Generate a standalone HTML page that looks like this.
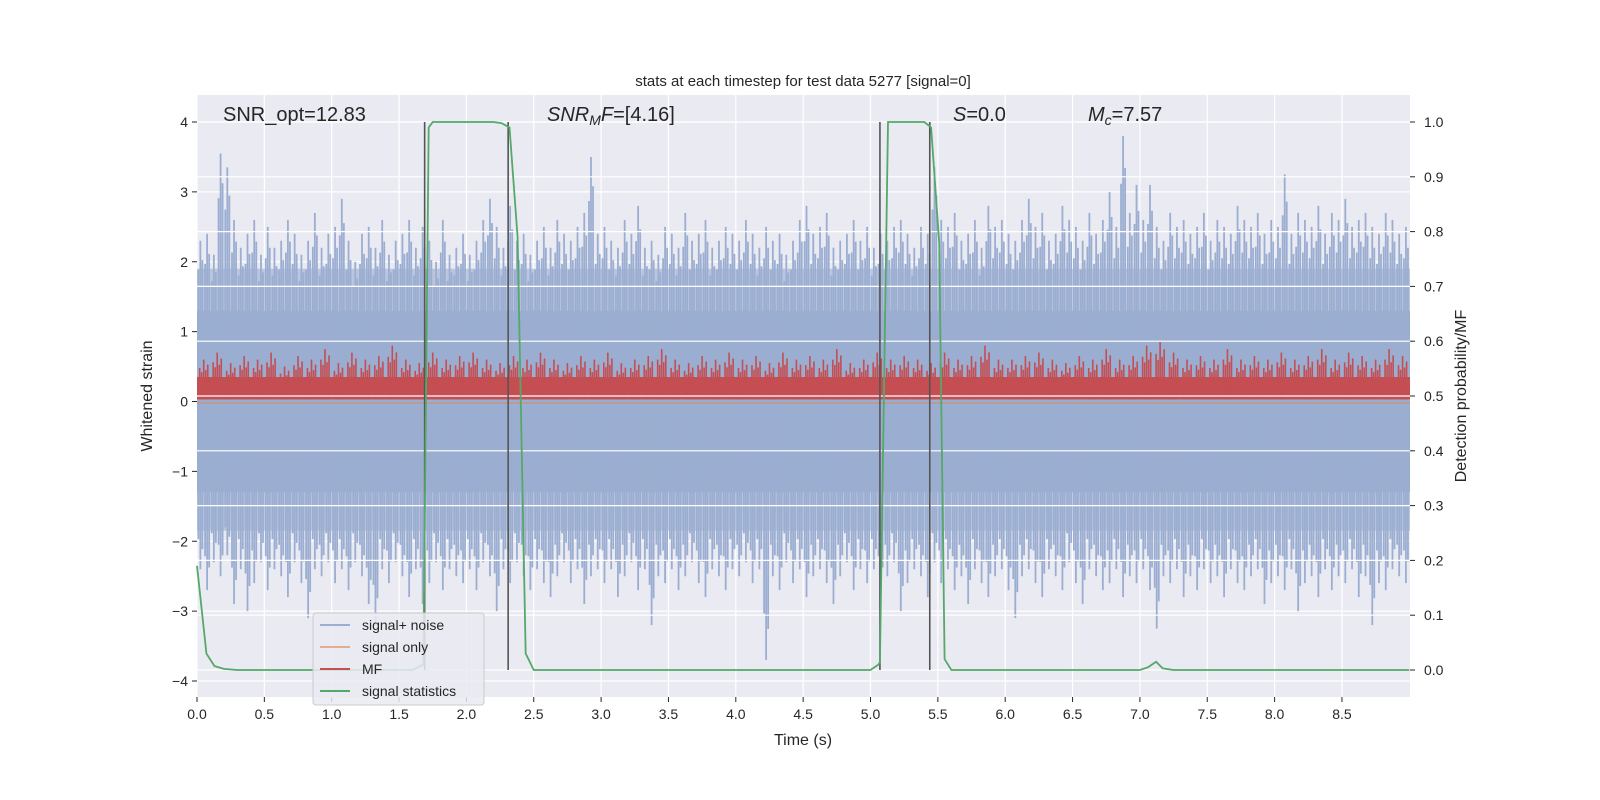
<!DOCTYPE html>
<html><head><meta charset="utf-8"><style>html,body{margin:0;padding:0;width:1600px;height:800px;overflow:hidden;background:#fff}svg{display:block;font-family:"Liberation Sans","DejaVu Sans",sans-serif}</style></head>
<body>
<svg id="c" width="1600" height="800" viewBox="0 0 1600 800">
<rect x="197" y="95" width="1213" height="602" fill="#eaeaf2"/>
<g id="gridL"></g><g id="noise"></g><g id="mf"></g><g id="gridR"></g><g id="stat"></g><g id="axes"></g>
<text x="803" y="86" text-anchor="middle" font-size="15" fill="#262626">stats at each timestep for test data 5277 [signal=0]</text>
<text x="223" y="121" font-size="20" fill="#262626">SNR_opt=12.83</text>
<text x="547" y="121" font-size="20" fill="#262626"><tspan font-style="italic">SNR</tspan><tspan font-style="italic" font-size="14" dy="4">M</tspan><tspan font-style="italic" dy="-4">F</tspan>=[4.16]</text>
<text x="953" y="121" font-size="20" fill="#262626"><tspan font-style="italic">S</tspan>=0.0</text>
<text x="1088" y="121" font-size="20" fill="#262626"><tspan font-style="italic">M</tspan><tspan font-style="italic" font-size="14" dy="4">c</tspan><tspan dy="-4">=7.57</tspan></text>
<text x="803" y="745" text-anchor="middle" font-size="16" fill="#262626">Time (s)</text>
<text transform="translate(152,396) rotate(-90)" text-anchor="middle" font-size="16" fill="#262626">Whitened strain</text>
<text transform="translate(1466,396) rotate(-90)" text-anchor="middle" font-size="16" fill="#262626">Detection probability/MF</text>
<g>
<rect x="313" y="613" width="171" height="92" rx="3" fill="#eaeaf2" fill-opacity="0.85" stroke="#cccccc"/>
<line x1="320" y1="625" x2="350" y2="625" stroke="#4c72b0" stroke-opacity="0.5" stroke-width="2"/>
<text x="362" y="630" font-size="14" fill="#262626">signal+ noise</text>
<line x1="320" y1="647" x2="350" y2="647" stroke="#dd8452" stroke-opacity="0.6" stroke-width="2"/>
<text x="362" y="652" font-size="14" fill="#262626">signal only</text>
<line x1="320" y1="669" x2="350" y2="669" stroke="#c44e52" stroke-width="2"/>
<text x="362" y="674" font-size="14" fill="#262626">MF</text>
<line x1="320" y1="691" x2="350" y2="691" stroke="#55a868" stroke-width="2"/>
<text x="362" y="696" font-size="14" fill="#262626">signal statistics</text>
</g>
</svg>
<script>
const noiseUp=[2.3,2.4,2.1,3.55,3.35,2.6,2.2,2.4,2.6,2.1,2.5,2.2,2.3,2.6,2.4,2.1,2.3,2.7,2.2,2.4,
2.5,2.9,2.3,2.0,2.4,2.5,2.2,2.6,2.1,2.3,2.4,2.6,2.2,2.5,2.3,2.0,2.6,2.1,2.2,2.4,
2.1,2.3,2.6,2.9,2.5,2.2,2.8,2.3,2.4,2.1,2.3,2.5,2.2,2.6,2.4,2.3,2.5,2.7,3.5,2.4,
2.5,2.3,2.2,2.6,2.4,2.8,2.2,2.3,2.1,2.5,2.4,2.2,2.7,2.3,2.4,2.6,2.2,2.3,2.5,2.4,
2.3,2.6,2.4,2.2,2.5,2.3,2.4,2.1,2.3,2.6,2.8,2.4,2.5,2.7,2.2,2.3,2.4,2.6,2.3,2.5,
2.2,2.4,2.3,2.5,2.6,2.4,2.2,2.5,2.4,3.35,2.6,2.5,2.7,2.3,2.4,2.6,2.2,2.8,2.5,2.6,
2.4,2.3,2.6,2.9,2.5,2.7,2.3,2.4,2.8,2.6,2.5,2.3,2.7,2.4,2.6,3.0,2.5,3.8,2.7,3.1,
2.6,3.1,2.5,2.3,2.7,2.5,2.6,2.4,2.5,2.7,2.3,2.6,2.5,2.4,2.8,2.6,2.5,2.7,2.4,2.6,
2.5,3.25,2.4,2.7,2.6,2.5,2.8,2.4,2.7,2.6,2.9,2.5,2.6,2.7,2.5,2.4,2.7,2.6,2.4,2.5];
const noiseDown=[-2.4,-2.7,-2.3,-2.5,-2.2,-2.9,-2.4,-3.0,-2.6,-2.3,-2.7,-2.4,-2.5,-2.8,-2.3,-2.6,-3.1,-2.4,-2.5,-2.3,
-2.6,-2.4,-2.7,-2.3,-2.5,-2.9,-3.2,-2.4,-2.6,-2.3,-2.5,-2.8,-2.4,-2.9,-2.6,-2.3,-2.7,-2.4,-2.5,-2.6,
-2.4,-2.7,-2.3,-2.5,-3.0,-2.4,-2.6,-2.3,-2.5,-2.7,-2.4,-2.6,-2.8,-2.5,-2.3,-2.6,-2.4,-2.9,-2.5,-2.4,
-2.6,-2.4,-2.8,-2.5,-2.3,-2.7,-2.4,-3.2,-2.5,-2.6,-2.4,-2.7,-2.5,-2.3,-2.6,-2.8,-2.4,-2.5,-2.7,-2.4,
-2.5,-2.3,-2.6,-2.4,-3.7,-2.5,-2.7,-2.3,-2.6,-2.4,-2.8,-2.5,-2.4,-2.6,-2.9,-2.5,-2.3,-2.7,-2.4,-2.6,
-2.4,-2.7,-2.5,-2.3,-3.0,-2.6,-2.4,-2.5,-2.8,-2.3,-2.6,-2.4,-2.7,-2.5,-2.9,-2.4,-2.6,-2.8,-2.5,-2.4,
-2.7,-3.1,-2.5,-2.4,-2.6,-2.8,-2.4,-2.5,-2.7,-2.3,-2.6,-2.9,-2.4,-2.5,-2.7,-2.6,-2.4,-2.8,-2.5,-2.6,
-2.4,-2.7,-3.25,-2.5,-2.6,-2.4,-2.8,-2.5,-2.7,-2.4,-2.6,-2.5,-2.8,-2.4,-2.6,-2.7,-2.5,-2.4,-2.9,-2.6,
-2.5,-2.7,-2.4,-3.0,-2.6,-2.5,-2.8,-2.4,-2.7,-2.5,-2.6,-2.4,-2.8,-2.5,-3.2,-2.6,-2.7,-2.4,-2.5,-2.6];
const mfTop=[0.6,0.7,0.55,0.65,0.6,0.7,0.5,0.65,0.6,0.75,0.55,0.7,0.6,0.65,0.8,0.6,0.55,0.7,0.6,0.65,
0.7,0.6,0.55,0.65,0.6,0.7,0.6,0.55,0.65,0.6,0.7,0.55,0.6,0.65,0.75,0.6,0.55,0.65,0.6,0.7,
0.6,0.65,0.55,0.7,0.6,0.65,0.6,0.75,0.55,0.6,0.7,0.6,0.65,0.6,0.55,0.7,0.6,0.65,0.8,0.6,
0.6,0.65,0.7,0.6,0.55,0.65,0.6,0.75,0.6,0.65,0.8,0.85,0.7,0.6,0.65,0.6,0.75,0.6,0.65,0.6,
0.7,0.6,0.65,0.75,0.6,0.7,0.65,0.6,0.75,0.65];
const statT=[0,0.07,0.13,0.2,0.3,1.6,1.68,1.72,1.75,1.8,2.2,2.26,2.32,2.38,2.44,2.5,5.0,5.06,5.07,5.13,5.2,5.4,5.45,5.51,5.55,5.6,7.0,7.06,7.12,7.17,7.25,9.0];
const statP=[0.19,0.03,0.007,0.002,0,0,0.01,0.99,1.0,1.0,1.0,0.998,0.99,0.79,0.03,0,0,0.01,0.015,1.0,1.0,1.0,0.99,0.78,0.02,0,0,0.005,0.015,0.003,0,0];
const vlines=[1.69,2.31,5.07,5.44];
const xTicks=[0,0.5,1,1.5,2,2.5,3,3.5,4,4.5,5,5.5,6,6.5,7,7.5,8,8.5];
const yTicks=[-4,-3,-2,-1,0,1,2,3,4];
const y2Ticks=[0,0.1,0.2,0.3,0.4,0.5,0.6,0.7,0.8,0.9,1.0];
const X=t=>197+t*134.7, YL=v=>401.5-v*69.875, YR=p=>670-p*548;
const NS="http://www.w3.org/2000/svg";
function mk(parent,tag,a){const e=document.createElementNS(NS,tag);for(const k in a)e.setAttribute(k,a[k]);document.getElementById(parent).appendChild(e);return e;}
xTicks.forEach(t=>{const e=mk('gridL','line',{x1:X(t),x2:X(t),y1:95,y2:697,stroke:'#fff','stroke-width':1.2});

});
yTicks.forEach(v=>{const e=mk('gridL','line',{x1:197,x2:1410,y1:YL(v),y2:YL(v),stroke:'#fff','stroke-width':1.2});

});
const nb=noiseUp.length, bw=9/nb;
let e=mk('noise','rect',{x:197,y:YL(1.9),width:1213,height:YL(-1.85)-YL(1.9),fill:'#9baed1','fill-opacity':0.6});


e=mk('noise','rect',{x:197,y:YL(1.3),width:1213,height:YL(-1.3)-YL(1.3),fill:'#9baed1'});


for(let i=0;i<nb;i++){const t=(i+0.5)*bw;
 [[0,1],[-0.3,0.82],[0.3,0.88]].forEach(([o,f])=>{
 const l=mk('noise','line',{x1:X(t+o*bw),x2:X(t+o*bw),y1:YL(noiseUp[i]*f),y2:YL(noiseDown[i]*f),stroke:'#9baed1','stroke-width':1.8});
 
 });}
e=mk('mf','line',{x1:197,x2:1410,y1:YL(-0.02),y2:YL(-0.02),stroke:'#dd8452','stroke-opacity':0.6,'stroke-width':1.5});


e=mk('mf','rect',{x:197,y:YL(0.35),width:1213,height:YL(0.03)-YL(0.35),fill:'#c44e52'});


const mb=mfTop.length,mw=9/mb;
for(let i=0;i<mb;i++){const t=(i+0.5)*mw;
 [[0,1],[-0.3,0.8],[0.3,0.88],[-0.15,0.7],[0.15,0.75]].forEach(([o,f])=>{
 const l=mk('mf','line',{x1:X(t+o*mw),x2:X(t+o*mw),y1:YL(mfTop[i]*f),y2:YL(0.03),stroke:'#c44e52','stroke-width':1.6});
 
 });}
y2Ticks.forEach(p=>{const l=mk('gridR','line',{x1:197,x2:1410,y1:YR(p),y2:YR(p),stroke:'#fff','stroke-width':1.2});

});
vlines.forEach(t=>{const l=mk('stat','line',{x1:X(t),x2:X(t),y1:YR(1),y2:YR(0),stroke:'#555','stroke-width':1.6});

});
const pl=mk('stat','polyline',{points:statT.map((t,i)=>X(t)+','+YR(statP[i])).join(' '),fill:'none',stroke:'#55a868','stroke-width':1.8});


xTicks.forEach(t=>{const l=mk('axes','line',{x1:X(t),x2:X(t),y1:697,y2:702,stroke:'#262626'});


const s=mk('axes','text',{x:X(t),y:719,'text-anchor':'middle','font-size':14,fill:'#262626'});s.textContent=t.toFixed(1);

});
yTicks.forEach(v=>{const l=mk('axes','line',{x1:192,x2:197,y1:YL(v),y2:YL(v),stroke:'#262626'});


const s=mk('axes','text',{x:188,y:YL(v)+5,'text-anchor':'end','font-size':14,fill:'#262626'});s.textContent=v<0?'\u2212'+(-v):String(v);

});
y2Ticks.forEach(p=>{const l=mk('axes','line',{x1:1410,x2:1415,y1:YR(p),y2:YR(p),stroke:'#262626'});


const s=mk('axes','text',{x:1424,y:YR(p)+5,'font-size':14,fill:'#262626'});s.textContent=p.toFixed(1);

});
</script>
</body></html>
